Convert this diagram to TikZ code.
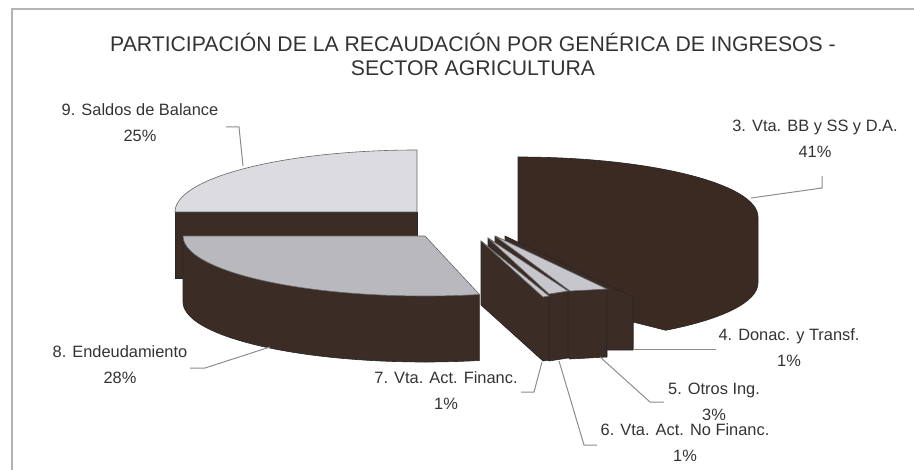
\documentclass[tikz,border=0pt]{standalone}
\usepackage{fontspec}
\setmainfont{Liberation Sans}
\definecolor{slicedark}{HTML}{3B2C26}
\definecolor{slicebrown}{HTML}{3A2A21}
\definecolor{toplight}{HTML}{DCDCE0}
\definecolor{topmid}{HTML}{B8B8BD}
\definecolor{topslab}{HTML}{C6C6CC}
\definecolor{leadgray}{HTML}{8C8C8C}
\definecolor{textgray}{HTML}{333333}
\definecolor{framegray}{HTML}{B4B4B4}

\begin{document}
\begin{tikzpicture}[x=0.5pt,y=-0.5pt,
    lbl/.style={align=center,text=textgray,font=\fontsize{8.2}{13}\selectfont,inner sep=0pt},
    leader/.style={draw=leadgray,line width=0.5pt},
    side/.style={fill=slicedark,draw=black!85,line width=0.3pt},
    topface/.style={draw=black!60,line width=0.3pt}]

        \useasboundingbox (0,0) rectangle (914,470);
        \draw[framegray,line width=0.6pt] (12,470) -- (12,9) -- (914,9);

        \node[align=center,text=textgray,font=\fontsize{10.6}{12}\selectfont] (title) at (473,54)
            {PARTICIPACIÓN DE LA RECAUDACIÓN POR GENÉRICA DE INGRESOS -\\SECTOR AGRICULTURA};

        \fill[side] (175,212) rectangle (417,278);
        \filldraw[topface,fill=toplight] (417,212) -- (175,212) arc[start angle=180,end angle=270,x radius=242,y radius=62] -- cycle;

        \filldraw[side] (183,236) arc[start angle=180,end angle=77,x radius=242,y radius=60] -- ++(0,66)
            arc[start angle=77,end angle=180,x radius=242,y radius=60] -- cycle;
        \filldraw[topface,fill=topmid] (425,236) -- (183,236) arc[start angle=180,end angle=77,x radius=242,y radius=60] -- cycle;

        \filldraw[side,fill=slicebrown] (518,157) arc[start angle=270,end angle=360,x radius=240,y radius=60] -- (758,283)
            arc[start angle=0,end angle=52,x radius=240,y radius=60] -- (633,322) -- (633,349) -- (560,349) -- (518,250) -- cycle;

        \filldraw[side] (505,236) -- (633,297) -- (633,350) -- (607,350) -- (505,300) -- cycle;

        \filldraw[side] (495,236) -- (607,289) -- (607,357) -- (570,359) -- (495,304) -- cycle;
        \filldraw[topface,fill=topslab] (495,236) -- (570,291) -- (607,289) -- cycle;

        \filldraw[side] (488,238) -- (568,291) -- (568,358) -- (549,361) -- (488,305) -- cycle;
        \filldraw[topface,fill=topslab] (488,238) -- (549,294) -- (568,291) -- cycle;

        \filldraw[side] (481,241) -- (549,296) -- (549,360) -- (543,361) -- (481,305) -- cycle;
        \filldraw[topface,fill=topslab] (481,241) -- (543,297) -- (549,296) -- cycle;

        \node[lbl] (l9) at (140,123) {9. Saldos de Balance\\25\%};
        \node[lbl] (l3) at (815,139) {3. Vta. BB y SS y D.A.\\41\%};
        \node[lbl] (l8) at (120,365) {8. Endeudamiento\\28\%};
        \node[lbl] (l7) at (446,391) {7. Vta. Act. Financ.\\1\%};
        \node[lbl] (l6) at (685,443) {6. Vta. Act. No Financ.\\1\%};
        \node[lbl] (l5) at (714,402) {5. Otros Ing.\\3\%};
        \node[lbl] (l4) at (789,348) {4. Donac. y Transf.\\1\%};

        \coordinate (p9) at (243,166);
        \coordinate (k9) at (226,127);
        \coordinate (p3) at (751,198);
        \coordinate (k3) at (822,176);
        \coordinate (p8) at (270,347);
        \coordinate (k8) at (190,368);
        \coordinate (p7) at (542,362);
        \coordinate (k7) at (521,392);
        \coordinate (p6) at (559,361);
        \coordinate (k6) at (597,445);
        \coordinate (p5) at (600,357);
        \coordinate (k5) at (664,402);
        \coordinate (p4) at (633,349);
        \coordinate (k4) at (716,349);

        \draw[leader] (k9) -- ++(13,0) -- (p9);
        \draw[leader] (k3) -- ++(0,12) -- (p3);
        \draw[leader] (k8) -- ++(15,0) -- (p8);
        \draw[leader] (k7) -- ++(13,0) -- (p7);
        \draw[leader] (k6) -- ++(-13,0) -- (p6);
        \draw[leader] (k5) -- ++(-14,0) -- (p5);
        \draw[leader] (p4) -- (k4);
\end{tikzpicture}
\end{document}
